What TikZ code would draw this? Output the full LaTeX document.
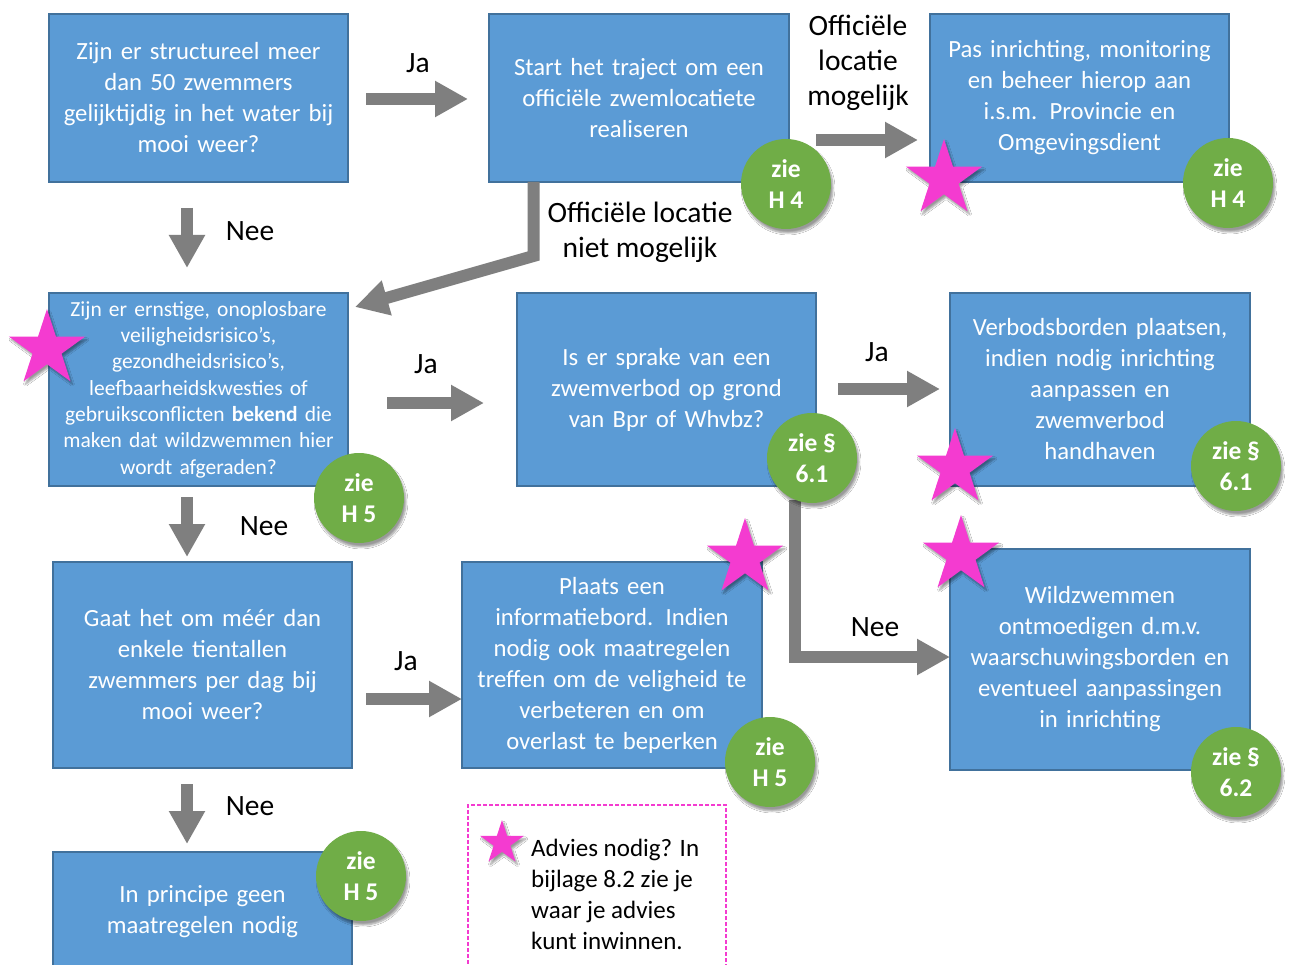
\documentclass[tikz,border=0pt]{standalone}
\usepackage{fontspec}
\setmainfont{Carlito}
\usetikzlibrary{arrows.meta,shapes.geometric,shadows.blur}
\definecolor{boxblue}{HTML}{5B9BD5}
\definecolor{boxedge}{HTML}{41719C}
\definecolor{circgreen}{HTML}{70AD47}
\definecolor{arrowgray}{HTML}{7F7F7F}
\definecolor{starpink}{HTML}{F43BD0}
\tikzset{
  flowbox/.style={draw=boxedge, line width=1.2pt, fill=boxblue, text=white, inner sep=0pt,
    align=center, font=\fontsize{24.7}{31}\selectfont},
  zie/.style={circle, fill=circgreen, text=white, minimum size=90pt, inner sep=0pt,
    align=center, font=\bfseries\fontsize{25.5}{31}\selectfont,
    blur shadow={shadow xshift=2pt, shadow yshift=-4pt, shadow blur steps=6, shadow opacity=40}},
  pinkstar/.style={star, star points=5, star point ratio=2.618, fill=starpink, inner sep=0pt,
    minimum size=80pt,
    blur shadow={shadow xshift=2pt, shadow yshift=-3pt, shadow blur steps=5, shadow opacity=40}},
  lbl/.style={text=black, align=center, font=\fontsize{29.5}{35}\selectfont, inner sep=0pt},
  bigarrow/.style={draw=arrowgray, line width=12pt, line join=miter,
    -{Triangle[length=33pt,width=34pt]}},
}
\begin{document}
\begin{tikzpicture}[x=1pt,y=-1pt]
\clip (0,0) rectangle (1290,965);
\fill[white] (0,0) rectangle (1290,965);

% boxes
\node[flowbox, minimum width=299pt, minimum height=168pt, text width=295pt] (b1) at (198.5,98)
  {Zijn er structureel meer\\dan 50 zwemmers\\gelijktijdig in het water bij\\mooi weer?};
\node[flowbox, minimum width=300pt, minimum height=168pt, text width=295pt] (b2) at (639,98)
  {Start het traject om een\\officiële zwemlocatiete\\realiseren};
\node[flowbox, minimum width=299pt, minimum height=168pt, text width=295pt] (b3) at (1079.5,98)
  {Pas inrichting, monitoring\\en beheer hierop aan\\i.s.m. Provincie en\\Omgevingsdient};
\node[flowbox, minimum width=299pt, minimum height=193pt, text width=295pt,
  font=\fontsize{21.5}{26.3}\selectfont] (b4) at (198.5,389.5)
  {Zijn er ernstige, onoplosbare\\veiligheidsrisico’s,\\gezondheidsrisico’s,\\leefbaarheidskwesties of\\gebruiksconflicten \textbf{bekend} die\\maken dat wildzwemmen hier\\wordt afgeraden?};
\node[flowbox, minimum width=299pt, minimum height=193pt, text width=295pt] (b5) at (666.5,389.5)
  {Is er sprake van een\\zwemverbod op grond\\van Bpr of Whvbz?};
\node[flowbox, minimum width=300pt, minimum height=193pt, text width=295pt] (b6) at (1100,389.5)
  {Verbodsborden plaatsen,\\indien nodig inrichting\\aanpassen en\\zwemverbod\\handhaven};
\node[flowbox, minimum width=299pt, minimum height=206pt, text width=295pt] (b7) at (202.5,665)
  {Gaat het om méér dan\\enkele tientallen\\zwemmers per dag bij\\mooi weer?};
\node[flowbox, minimum width=300pt, minimum height=206pt, text width=295pt] (b8) at (612,665)
  {Plaats een\\informatiebord. Indien\\nodig ook maatregelen\\treffen om de veligheid te\\verbeteren en om\\overlast te beperken};
\node[flowbox, minimum width=300pt, minimum height=221pt, text width=295pt] (b9) at (1100,659.5)
  {Wildzwemmen\\ontmoedigen d.m.v.\\waarschuwingsborden en\\eventueel aanpassingen\\in inrichting};
\node[flowbox, minimum width=299pt, minimum height=120pt, text width=295pt] (b10) at (202.5,912)
  {In principe geen\\maatregelen nodig};

% legend
\node[draw=starpink, dash pattern=on 4pt off 2pt, line width=1.1pt, minimum width=258pt, minimum height=175pt, inner sep=0pt] (leg) at (597,892.5) {};
\node[anchor=north west, align=left, text=black, font=\fontsize{25}{31}\selectfont, inner sep=0pt] (legtext) at (531,839)
  {Advies nodig? In\\bijlage 8.2 zie je\\waar je advies\\kunt inwinnen.};
\node[pinkstar, minimum size=46pt] (legstar) at (502,843) {};

% arrow coordinates
\coordinate (a1s) at (366,99);  \coordinate (a1e) at (468,99);
\coordinate (a2s) at (187,208); \coordinate (a2e) at (187,268);
\coordinate (a3s) at (533.5,182); \coordinate (a3m) at (533.5,256); \coordinate (a3e) at (355,307);
\coordinate (a4s) at (816,140); \coordinate (a4e) at (918,140);
\coordinate (a5s) at (387,403); \coordinate (a5e) at (484,403);
\coordinate (a6s) at (838,389); \coordinate (a6e) at (940,389);
\coordinate (a7s) at (795,500); \coordinate (a7m) at (795,657); \coordinate (a7e) at (950,657);
\coordinate (a8s) at (187,497); \coordinate (a8e) at (187,557);
\coordinate (a9s) at (366,699); \coordinate (a9e) at (462,699);
\coordinate (a10s) at (187,784); \coordinate (a10e) at (187,844);

\draw[bigarrow] (a1s) -- (a1e);
\draw[bigarrow] (a2s) -- (a2e);
\draw[bigarrow] (a3s) -- (a3m) -- (a3e);
\draw[bigarrow] (a4s) -- (a4e);
\draw[bigarrow] (a5s) -- (a5e);
\draw[bigarrow] (a6s) -- (a6e);
\draw[bigarrow] (a7s) -- (a7m) -- (a7e);
\draw[bigarrow] (a8s) -- (a8e);
\draw[bigarrow] (a9s) -- (a9e);
\draw[bigarrow] (a10s) -- (a10e);

% labels
\node[lbl] (l1) at (418,63) {Ja};
\node[lbl] (l2) at (250,231) {Nee};
\node[lbl] (l3) at (640,232) {Officiële locatie\\niet mogelijk};
\node[lbl] (l4) at (858,63) {Officiële\\locatie\\mogelijk};
\node[lbl] (l5) at (426,364) {Ja};
\node[lbl] (l6) at (877,352) {Ja};
\node[lbl] (l7) at (264,526) {Nee};
\node[lbl] (l8) at (875,627) {Nee};
\node[lbl] (l9) at (406,661) {Ja};
\node[lbl] (l10) at (250,806) {Nee};

% circles
\node[zie] (c1) at (786,184) {zie\\H 4};
\node[zie] (c2) at (1228,183) {zie\\H 4};
\node[zie] (c3) at (359,498) {zie\\H 5};
\node[zie] (c4) at (812,458) {zie §\\6.1};
\node[zie] (c5) at (1236,466) {zie §\\6.1};
\node[zie] (c6) at (770,762) {zie\\H 5};
\node[zie] (c7) at (1236,772) {zie §\\6.2};
\node[zie] (c8) at (361,876) {zie\\H 5};

% stars
\node[pinkstar] (s1) at (944,179) {};
\node[pinkstar] (s2) at (47,349) {};
\node[pinkstar] (s3) at (955,468) {};
\node[pinkstar] (s4) at (745,558) {};
\node[pinkstar] (s5) at (961,555) {};
\end{tikzpicture}
\end{document}
